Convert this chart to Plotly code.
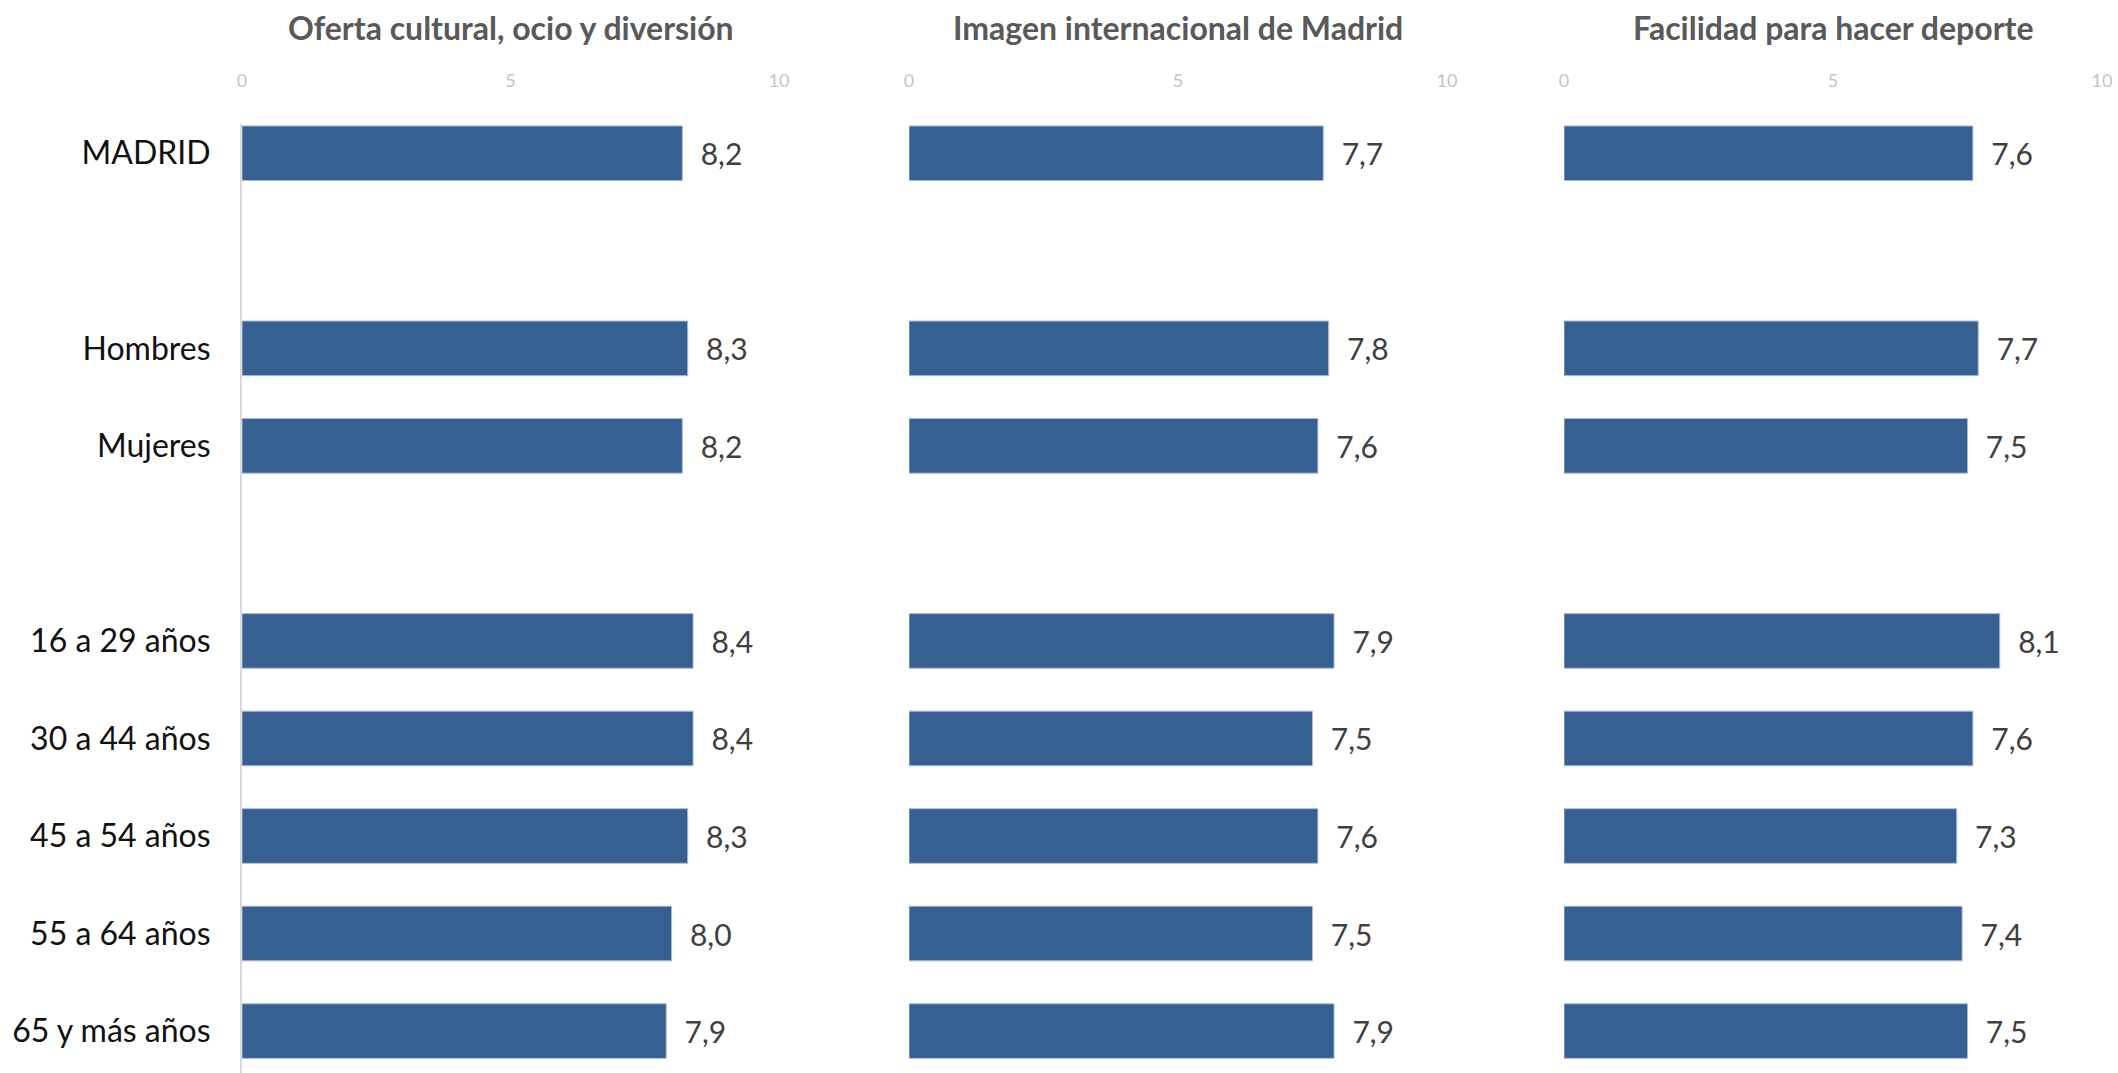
import plotly.graph_objects as go

categories = ["MADRID", " ", "Hombres", "Mujeres", "  ",
              "16 a 29 años", "30 a 44 años", "45 a 54 años", "55 a 64 años", "65 y más años"]
titles = ["Oferta cultural, ocio y diversión", "Imagen internacional de Madrid", "Facilidad para hacer deporte"]
oferta_cultural = [8.2, None, 8.3, 8.2, None, 8.4, 8.4, 8.3, 8.0, 7.9]
imagen_internacional = [7.7, None, 7.8, 7.6, None, 7.9, 7.5, 7.6, 7.5, 7.9]
facilidad_deporte = [7.6, None, 7.7, 7.5, None, 8.1, 7.6, 7.3, 7.4, 7.5]
tick_vals = [0, 5, 10]

series = [oferta_cultural, imagen_internacional, facilidad_deporte]

W, H = 2118, 1073
x_domains = [(242 / W, 779 / W), (909 / W, 1447 / W), (1564 / W, 2102 / W)]
plot_top = 1 - 124 / H

BAR = "#366092"

fig = go.Figure()
for i, vals in enumerate(series):
    suffix = "" if i == 0 else str(i + 1)
    fig.add_trace(go.Bar(
        x=vals, y=categories, orientation="h",
        marker=dict(color=BAR, line=dict(color="#a9bcd6", width=1)),
        width=0.56,
        texttemplate="\u00a0\u00a0%{x:.1f}",
        textposition="outside",
        cliponaxis=False,
        textfont=dict(family="Lato", size=30, color="#404040"),
        xaxis="x" + suffix, yaxis="y" + suffix,
        showlegend=False, hoverinfo="skip",
    ))
    xa = dict(
        domain=list(x_domains[i]), range=[0, 10], side="top",
        tickvals=tick_vals, showgrid=False, zeroline=False, showline=False,
        tickfont=dict(family="Lato", size=18, color="#c4c4c4"),
        ticks="", ticklabelstandoff=32, anchor="y" + suffix,
        automargin=False,
    )
    ya = dict(
        domain=[0, plot_top], categoryorder="array", categoryarray=categories,
        range=[9.43, -0.3], anchor="x" + suffix,
        showgrid=False, zeroline=False,
        showticklabels=(i == 0), ticks="",
        tickfont=dict(family="Lato", size=32, color="#111111"),
        ticklabelstandoff=23,
        showline=(i == 0), linecolor="#d9d9d9", linewidth=2,
        automargin=False,
    )
    fig.layout["xaxis" + suffix] = xa
    fig.layout["yaxis" + suffix] = ya
    fig.add_annotation(
        text="<b>" + titles[i] + "</b>", xref="paper", yref="paper",
        x=(x_domains[i][0] + x_domains[i][1]) / 2, y=1 - 27 / H,
        xanchor="center", yanchor="middle", showarrow=False,
        font=dict(family="Lato", size=32, color="#595959"),
    )

fig.update_layout(
    width=W, height=H, margin=dict(l=0, r=0, t=0, b=0, autoexpand=False),
    paper_bgcolor="white", plot_bgcolor="white",
    separators=",.", bargap=0.44,
)
fig.write_html("out.html", config={"displayModeBar": False},
               post_script="document.body.style.margin='0';document.body.style.overflow='hidden';")
